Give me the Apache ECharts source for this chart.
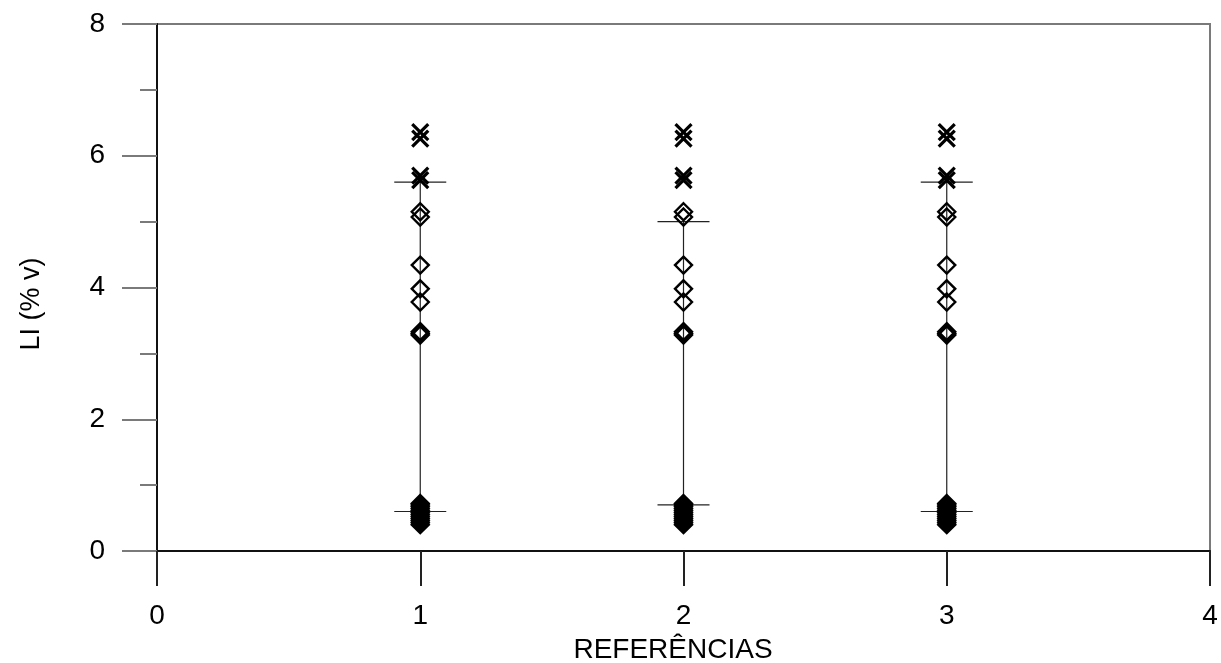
<!DOCTYPE html>
<html>
<head>
<meta charset="utf-8">
<script src="https://cdn.jsdelivr.net/npm/echarts@6/dist/echarts.min.js"></script>
<style>
  html, body { margin: 0; padding: 0; background: #fff; }
  #chart { width: 1221px; height: 663px; }
</style>
</head>
<body>
<div id="chart"></div>
<script>
// Reference positions on the x axis
const categories = [1, 2, 3];
// Whisker ends for each reference (% v)
const whiskerLow = [0.6, 0.7, 0.6];
const whiskerHigh = [5.6, 5.0, 5.6];
// Individual LI values drawn as crosses and diamonds, per reference
const crossValues = [
  [6.36, 6.26, 5.70, 5.63],
  [6.36, 6.26, 5.70, 5.63],
  [6.36, 6.26, 5.70, 5.63]
];
const diamondValues = [
  [5.15, 5.07, 4.34, 3.98, 3.78, 3.33, 3.30, 3.28, 0.72, 0.70, 0.67, 0.64, 0.61, 0.58, 0.55, 0.52, 0.49, 0.46, 0.43, 0.40],
  [5.15, 5.07, 4.34, 3.98, 3.78, 3.33, 3.30, 3.28, 0.72, 0.70, 0.67, 0.64, 0.61, 0.58, 0.55, 0.52, 0.49, 0.46, 0.43, 0.40],
  [5.15, 5.07, 4.34, 3.98, 3.78, 3.33, 3.30, 3.28, 0.72, 0.70, 0.67, 0.64, 0.61, 0.58, 0.55, 0.52, 0.49, 0.46, 0.43, 0.40]
];
const xTicks = ['0', '1', '2', '3', '4'];
const yTicks = ['0', '2', '4', '6', '8'];
const xTitle = 'REFERÊNCIAS';
const yTitle = 'LI (% v)';

const whiskerData = categories.map((c, i) => [c, whiskerLow[i], whiskerHigh[i]]);
const crossData = [];
const diamondData = [];
categories.forEach((c, i) => {
  crossValues[i].forEach(v => crossData.push([c, v]));
  diamondValues[i].forEach(v => diamondData.push([c, v]));
});

const FONT = '"Liberation Sans", Arial, sans-serif';
const chart = echarts.init(document.getElementById('chart'), null, { renderer: 'canvas' });

chart.setOption({
  animation: false,
  backgroundColor: '#ffffff',
  grid: {
    left: 157, right: 11, top: 24, bottom: 112,
    show: true, borderColor: '#7a7a7a', borderWidth: 2, backgroundColor: 'transparent'
  },
  xAxis: {
    type: 'value', min: 0, max: 4, interval: 1,
    axisLine: { show: true, onZero: false, lineStyle: { color: '#111', width: 2 } },
    axisTick: { show: true, length: 35, inside: false, lineStyle: { color: '#222', width: 2 } },
    axisLabel: {
      margin: 51, color: '#000', fontSize: 28, fontFamily: FONT,
      formatter: v => xTicks[Math.round(v)]
    },
    splitLine: { show: false }
  },
  yAxis: {
    type: 'value', min: 0, max: 8, interval: 2,
    axisLine: { show: true, onZero: false, lineStyle: { color: '#111', width: 2 } },
    axisTick: { show: true, length: 35, inside: false, lineStyle: { color: '#7a7a7a', width: 2 } },
    minorTick: { show: true, splitNumber: 2, length: 17, lineStyle: { color: '#7a7a7a', width: 2 } },
    axisLabel: {
      margin: 52, color: '#000', fontSize: 28, fontFamily: FONT,
      formatter: v => yTicks[Math.round(v / 2)]
    },
    splitLine: { show: false }
  },
  graphic: [
    {
      type: 'text', x: 673, y: 650, z: 10,
      style: { text: xTitle, fill: '#000', font: '28px ' + FONT, textAlign: 'center', textVerticalAlign: 'middle' }
    },
    {
      type: 'text', x: 32, y: 304, rotation: Math.PI / 2, z: 10,
      style: { text: yTitle, fill: '#000', font: '27px ' + FONT, textAlign: 'center', textVerticalAlign: 'middle' }
    }
  ],
  series: [
    {
      type: 'custom',
      z: 1,
      data: whiskerData,
      renderItem: function (params, api) {
        const x = api.value(0);
        const lo = api.coord([x, api.value(1)]);
        const hi = api.coord([x, api.value(2)]);
        const half = 26;
        const style = { stroke: '#222', lineWidth: 1.2 };
        return {
          type: 'group',
          children: [
            { type: 'line', shape: { x1: lo[0], y1: lo[1], x2: hi[0], y2: hi[1] }, style: style },
            { type: 'line', shape: { x1: lo[0] - half, y1: lo[1], x2: lo[0] + half, y2: lo[1] }, style: style },
            { type: 'line', shape: { x1: hi[0] - half, y1: hi[1], x2: hi[0] + half, y2: hi[1] }, style: style }
          ]
        };
      }
    },
    {
      type: 'scatter',
      z: 3,
      data: diamondData,
      symbol: 'diamond',
      symbolSize: [17, 17],
      itemStyle: { color: 'transparent', borderColor: '#000', borderWidth: 2.4, opacity: 1 },
      emphasis: { disabled: true }
    },
    {
      type: 'scatter',
      z: 4,
      data: crossData,
      symbol: 'path://M0,0L10,10M10,0L0,10',
      symbolSize: [16, 16],
      itemStyle: { color: 'transparent', borderColor: '#000', borderWidth: 3.2, opacity: 1 },
      emphasis: { disabled: true }
    }
  ]
});
</script>
</body>
</html>
